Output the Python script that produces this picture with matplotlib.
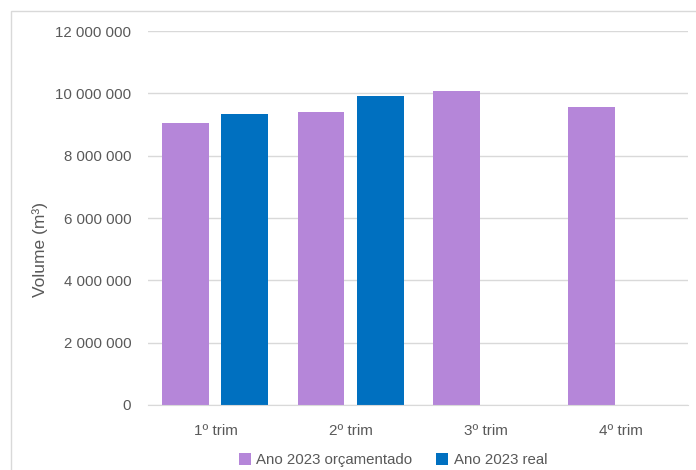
import matplotlib.pyplot as plt
import matplotlib.ticker as mticker
import numpy as np

plt.rcParams['font.family'] = ['Liberation Sans', 'DejaVu Sans']
plt.rcParams['font.size'] = 11

trimestres = ['1º trim', '2º trim', '3º trim', '4º trim']
orcamentado = [9060000, 9400000, 10070000, 9560000]
real = [9330000, 9910000, np.nan, np.nan]
series_labels = ['Ano 2023 orçamentado', 'Ano 2023 real']

roxo = '#B586D9'
azul = '#0070C0'
cinza = '#595959'


def fmt_milhares(v, pos):
    return f'{int(v):,}'.replace(',', ' ')


fig = plt.figure(figsize=(6.96, 4.70), dpi=100)
ax = fig.add_axes([0.2126, 0.1383, 0.776, 0.7957])

x = np.arange(len(trimestres))
w = 0.348
ax.bar(x - 0.2185, orcamentado, width=w, color=roxo, label=series_labels[0], zorder=2)
ax.bar(x + 0.2185, real, width=w, color=azul, label=series_labels[1], zorder=2)

ax.set_xlim(-0.5, 3.5)
ax.set_ylim(0, 12000000)
ax.set_yticks(np.arange(0, 12000001, 2000000))
ax.yaxis.set_major_formatter(mticker.FuncFormatter(fmt_milhares))
ax.set_xticks(x)
ax.set_xticklabels(trimestres)

ax.grid(axis='y', color='#D9D9D9', linewidth=1, zorder=0)
for s in ['top', 'right', 'left']:
    ax.spines[s].set_visible(False)
ax.spines['bottom'].set_color('#D9D9D9')
ax.tick_params(axis='both', colors=cinza, length=0)
ax.tick_params(axis='y', pad=12, labelsize=10.8)
ax.tick_params(axis='x', pad=14, labelsize=11)

ax.set_ylabel('Volume (m³)', color=cinza, fontsize=12.5)
ax.yaxis.set_label_coords(-0.186, 0.417)

leg = ax.legend(loc='center', bbox_to_anchor=(0.454, -0.148), ncol=2, frameon=False,
                fontsize=10.8, handlelength=0.8, handleheight=0.8, handletextpad=0.35,
                columnspacing=1.6, labelcolor=cinza)

# moldura externa do gráfico
fig.add_artist(plt.Rectangle((11 / 696, -0.1), 1.0, 1.0 - 11 / 470 + 0.1,
                             transform=fig.transFigure, fill=False,
                             edgecolor='#D9D9D9', linewidth=1))

fig.savefig('out.png', dpi=100)
